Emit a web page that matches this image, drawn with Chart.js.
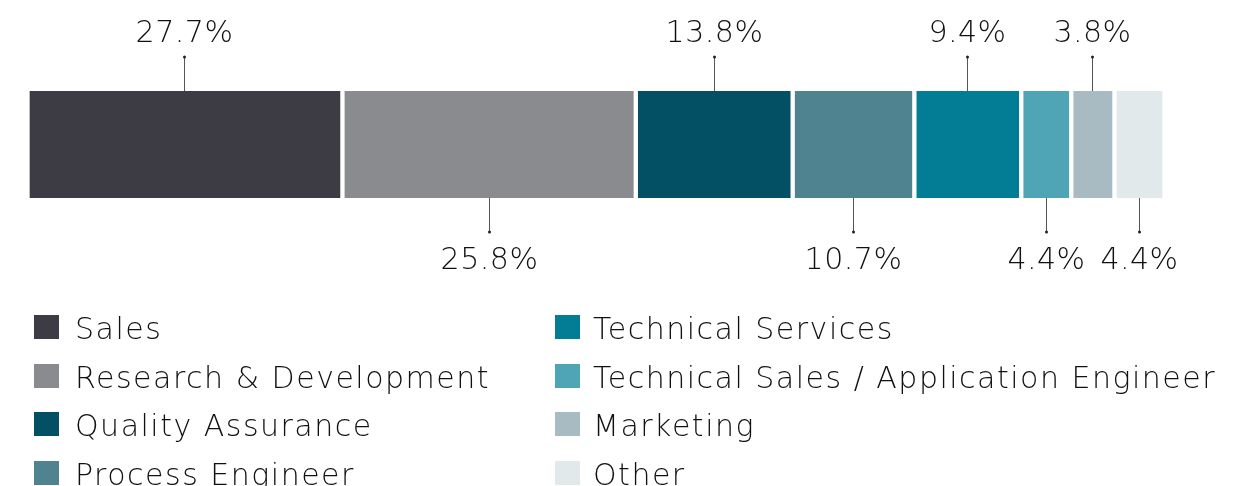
<!DOCTYPE html>
<html>
<head>
<meta charset="utf-8">
<script src="https://cdn.jsdelivr.net/npm/chart.js@4"></script>
<style>
  html, body { margin: 0; padding: 0; background: #fff; }
  #wrap { width: 1243px; height: 486px; position: relative; }
</style>
</head>
<body>
<div id="wrap"><canvas id="barChart"></canvas></div>
<script>
const categories = [
    "Sales", "Research & Development", "Quality Assurance", "Process Engineer",
    "Technical Services", "Technical Sales / Application Engineer", "Marketing", "Other"
];
const shares = [27.7, 25.8, 13.8, 10.7, 9.4, 4.4, 3.8, 4.4];
const colors = ["#3d3c45", "#8a8b8f", "#034f63", "#4f8390", "#037d95", "#4fa5b5", "#a8bbc3", "#e1e9eb"];

const FONT = '200 30px "DejaVu Sans", sans-serif';

// labels above/below the bar with a small leader line
const valueLabels = {
    id: 'valueLabels',
    afterDatasetsDraw(chart) {
        const ctx = chart.ctx;
        ctx.save();
        ctx.font = FONT;
        ctx.letterSpacing = '0.5px';
        ctx.textAlign = 'center';
        ctx.textBaseline = 'alphabetic';
        chart.data.datasets.forEach(function (ds, i) {
            const bar = chart.getDatasetMeta(i).data[0];
            const cx = Math.round((bar.x + bar.base) / 2) + 0.5;
            const top = bar.y - bar.height / 2;
            const bottom = bar.y + bar.height / 2;
            const up = i % 2 == 0;
            const y1 = up ? top - 34 : bottom + 34;
            ctx.strokeStyle = '#555';
            ctx.lineWidth = 1;
            ctx.beginPath();
            ctx.moveTo(cx, up ? top : bottom);
            ctx.lineTo(cx, y1);
            ctx.stroke();
            ctx.fillStyle = '#222';
            ctx.beginPath();
            ctx.arc(cx, y1, 1.5, 0, Math.PI * 2);
            ctx.fill();
            ctx.fillStyle = '#111';
            ctx.fillText(ds.data[0].toFixed(1) + '%', cx, up ? 42 : 269);
        });
        ctx.restore();
    }
};

// two-column legend under the chart
const sideLegend = {
    id: 'sideLegend',
    afterDraw(chart) {
        const ctx = chart.ctx;
        ctx.save();
        ctx.font = FONT;
        ctx.letterSpacing = '1.5px';
        ctx.textBaseline = 'alphabetic';
        ctx.textAlign = 'left';
        categories.forEach(function (name, i) {
            const col = Math.floor(i / 4);
            const row = i % 4;
            const x = col == 0 ? 34 : 555;
            const y = 315 + Math.round(row * 48.5);
            ctx.fillStyle = colors[i];
            ctx.fillRect(x, y, 25, 24);
            ctx.fillStyle = '#111';
            ctx.fillText(name, col == 0 ? 75 : 593, y + 24);
        });
        ctx.restore();
    }
};

const ctxBar = document.getElementById('barChart').getContext('2d');
const myChart = new Chart(ctxBar, {
    type: 'bar',
    data: {
        labels: ['Share'],
        datasets: categories.map(function (name, i) {
            return {
                label: name,
                data: [shares[i]],
                backgroundColor: colors[i],
                borderColor: '#ffffff',
                borderWidth: { left: 3, right: 2, top: 0, bottom: 0 },
                borderSkipped: false,
                barPercentage: 1,
                categoryPercentage: 1
            };
        })
    },
    options: {
        indexAxis: 'y',
        responsive: true,
        maintainAspectRatio: false,
        animation: false,
        layout: { padding: { left: 27, right: 79, top: 91, bottom: 288 } },
        plugins: { legend: { display: false }, tooltip: { enabled: false } },
        scales: {
            x: { stacked: true, min: 0, max: 100, display: false },
            y: { stacked: true, display: false }
        }
    },
    plugins: [valueLabels, sideLegend]
});
</script>
</body>
</html>
